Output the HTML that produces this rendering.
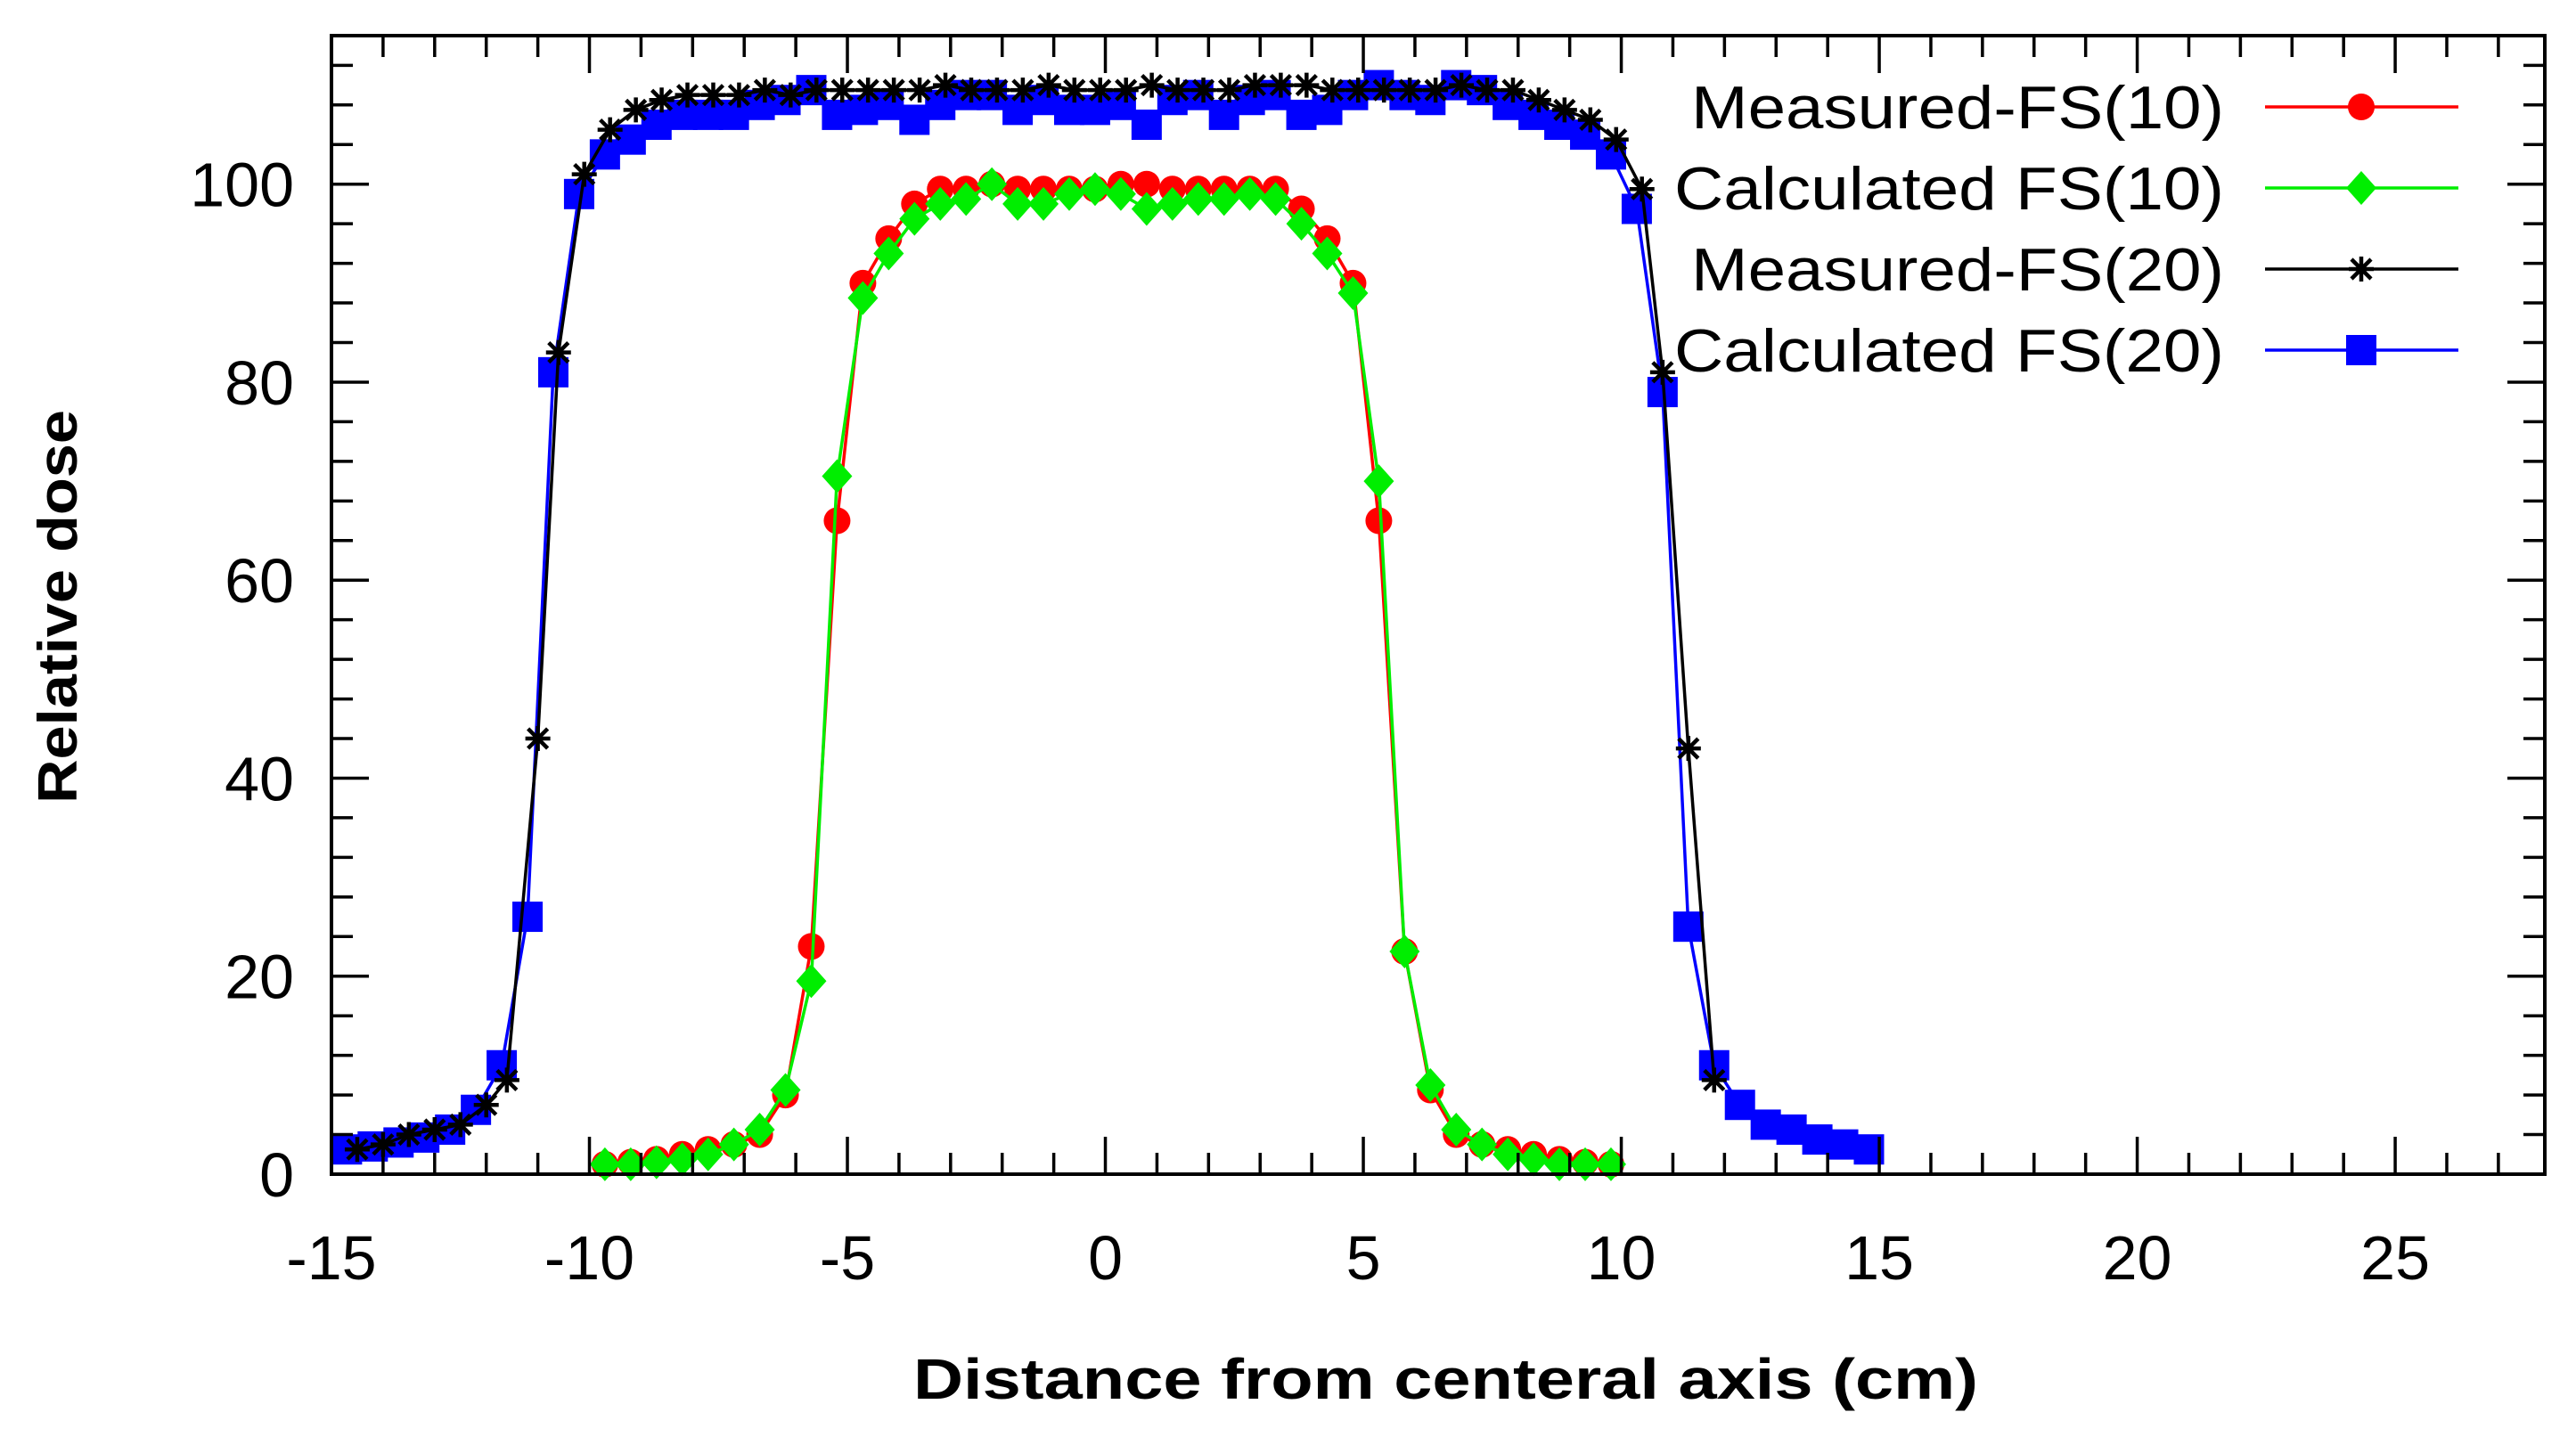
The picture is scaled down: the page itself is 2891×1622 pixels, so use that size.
<!DOCTYPE html>
<html><head><meta charset="utf-8"><style>html,body{margin:0;padding:0;background:#fff}svg{display:block}</style></head>
<body>
<svg id="chart" width="2891" height="1622" viewBox="0 0 2891 1622" xmlns="http://www.w3.org/2000/svg" font-family="'Liberation Sans', Arial, sans-serif">
<rect x="0" y="0" width="2891" height="1622" fill="#fff"/>
<g id="marks"></g>
<g id="axes"></g>
</svg>
<script>
const f20x=[-14.7,-14.2,-13.7,-13.2,-12.7,-12.2,-11.7,-11.2,-10.7,-10.2,-9.7,-9.2,-8.7,-8.2,-7.7,-7.2,-6.7,-6.2,-5.7,-5.2,-4.7,-4.2,-3.7,-3.2,-2.7,-2.2,-1.7,-1.2,-0.7,-0.2,0.3,0.8,1.3,1.8,2.3,2.8,3.3,3.8,4.3,4.8,5.3,5.8,6.3,6.8,7.3,7.8,8.3,8.8,9.3,9.8,10.3,10.8,11.3,11.8,12.3,12.8,13.3,13.8,14.3,14.8];
const calc20=[2.5,2.8,3.2,3.7,4.5,6.5,11,26,81,99,103,104.5,106,107,107,107,108,108.5,109.5,107,107.5,108,106.5,108,109,109,107.5,108.5,107.5,107.5,108,106,108.5,109,107,108.5,109,107,107.5,109,110,109,108.5,110,109.5,108,107,106,105,103,97.5,79,25,11,7,5,4.5,3.5,3,2.5];
const m20x=[-14.5,-14,-13.5,-13,-12.5,-12,-11.6,-11.0,-10.6,-10.1,-9.6,-9.1,-8.6,-8.1,-7.6,-7.1,-6.6,-6.1,-5.6,-5.1,-4.6,-4.1,-3.6,-3.1,-2.6,-2.1,-1.6,-1.1,-0.6,-0.1,0.4,0.9,1.4,1.9,2.4,2.9,3.4,3.9,4.4,4.9,5.4,5.9,6.4,6.9,7.4,7.9,8.4,8.9,9.4,9.9,10.4,10.8,11.3,11.8];
const meas20=[2.5,3,4,4.5,5,7,9.5,44,83,101,105.5,107.5,108.5,109,109,109,109.5,109,109.5,109.5,109.5,109.5,109.5,110,109.5,109.5,109.5,110,109.5,109.5,109.5,110,109.5,109.5,109.5,110,110,110,109.5,109.5,109.5,109.5,109.5,110,109.5,109.5,108.5,107.5,106.5,104.5,99.5,81,43,9.5];
const f10x=[-9.7,-9.2,-8.7,-8.2,-7.7,-7.2,-6.7,-6.2,-5.7,-5.2,-4.7,-4.2,-3.7,-3.2,-2.7,-2.2,-1.7,-1.2,-0.7,-0.2,0.3,0.8,1.3,1.8,2.3,2.8,3.3,3.8,4.3,4.8,5.3,5.8,6.3,6.8,7.3,7.8,8.3,8.8,9.3,9.8];
const meas10=[1,1.2,1.5,2,2.5,3,4,8,23,66,90,94.5,98,99.5,99.5,100,99.5,99.5,99.5,99.5,100,100,99.5,99.5,99.5,99.5,99.5,97.5,94.5,90,66,22.5,8.5,4,3,2.5,2,1.5,1.2,1];
const calc10=[1,1,1.2,1.5,2,3,4.5,8.5,19.5,70.5,88.5,93,96.5,98,98.5,100,98,98,99,99.5,99,97.5,98,98.5,98.5,99,98.5,96,93,89,70,22.5,9,4.5,3,2,1.5,1,1,1];
const xTicks=[-15,-10,-5,0,5,10,15,20,25];
const yTicks=[0,20,40,60,80,100];

const NS='http://www.w3.org/2000/svg';
const L=372,R=2856,T=40,B=1318,XMIN=-15,XMAX=27.9,YMIN=0,YMAX=115;
const sx=v=>L+(v-XMIN)/(XMAX-XMIN)*(R-L);
const sy=v=>B-(v-YMIN)/(YMAX-YMIN)*(B-T);
const marks=document.getElementById('marks'),axes=document.getElementById('axes');
function mk(tag,attrs,parent){const e=document.createElementNS(NS,tag);for(const k in attrs)e.setAttribute(k,attrs[k]);parent.appendChild(e);return e;}

function marker(type,cx,cy,g,color){
  let e;
  if(type==='circle') e=mk('circle',{cx:cx,cy:cy,r:15,fill:color},g);
  else if(type==='diamond') e=mk('polygon',{points:`${cx},${cy-19} ${cx+17},${cy} ${cx},${cy+19} ${cx-17},${cy}`,fill:color},g);
  else if(type==='square') e=mk('rect',{x:cx-17,y:cy-17,width:34,height:34,fill:color},g);
  else { e=mk('path',{d:`M${cx-14},${cy}H${cx+14}M${cx},${cy-14}V${cy+14}M${cx-11},${cy-11}L${cx+11},${cy+11}M${cx-11},${cy+11}L${cx+11},${cy-11}`,stroke:color,'stroke-width':4.5,fill:'none'},g); }
  return e;
}
function series(name,xs,ys,color,type){
  const g=mk('g',{},marks);
  
  
  const line=mk('polyline',{points:xs.map((x,i)=>sx(x)+','+sy(ys[i])).join(' '),fill:'none',stroke:color,'stroke-width':3.5},g);
  
  
  xs.forEach((x,i)=>{const m=marker(type,sx(x),sy(ys[i]),g,color);
    
    });
}
series('measured-fs10',f10x,meas10,'#ff0000','circle');
series('calculated-fs10',f10x,calc10,'#00ee00','diamond');
series('calculated-fs20',f20x,calc20,'#0000ff','square');
series('measured-fs20',m20x,meas20,'#000000','star');

const fr=mk('rect',{x:L,y:T,width:R-L,height:B-T,fill:'none',stroke:'#000','stroke-width':4},axes);


let td='';
for(let v=-15;v<=27;v++){const x=sx(v);const len=(v%5===0)?42:24;td+=`M${x},${B}V${B-len}M${x},${T}V${T+len}`;}
for(let v=4;v<=112;v+=4){const y=sy(v);const len=(v%20===0)?42:24;td+=`M${L},${y}H${L+len}M${R},${y}H${R-len}`;}
const tk=mk('path',{d:td,stroke:'#000','stroke-width':3.5,fill:'none'},axes);


xTicks.forEach(v=>{const t=mk('text',{x:sx(v),y:1436,'font-size':70,'text-anchor':'middle',fill:'#000'},axes);t.textContent=v;
  
  });
yTicks.forEach(v=>{const t=mk('text',{x:330,y:sy(v)+25,'font-size':70,'text-anchor':'end',fill:'#000'},axes);t.textContent=v;
  
  });
const xl=mk('text',{x:1025,y:1570,'font-size':64,'font-weight':'bold',textLength:1195,lengthAdjust:'spacingAndGlyphs',fill:'#000'},axes);
xl.textContent='Distance from centeral axis (cm)';


const yl=mk('text',{x:0,y:0,'font-size':62,'font-weight':'bold','text-anchor':'middle',textLength:442,lengthAdjust:'spacingAndGlyphs',transform:'translate(86,681) rotate(-90)',fill:'#000'},axes);
yl.textContent='Relative dose';



const legNames=['Measured-FS(10)','Calculated FS(10)','Measured-FS(20)','Calculated FS(20)'];
const legColors=['#ff0000','#00ee00','#000000','#0000ff'];
const legTypes=['circle','diamond','star','square'];
const legW=[598,617,598,617];
const legY=[120,211,302,393];
const lg=mk('g',{},axes);


legNames.forEach((n,i)=>{
  const e=mk('g',{},lg);
  
  
  const t=mk('text',{x:2496-legW[i],y:legY[i]+24,'font-size':68,textLength:legW[i],lengthAdjust:'spacingAndGlyphs',fill:'#000'},e);t.textContent=n;
  mk('line',{x1:2542,x2:2759,y1:legY[i],y2:legY[i],stroke:legColors[i],'stroke-width':3.5},e);
  marker(legTypes[i],2650,legY[i],e,legColors[i]);
});
</script>
</body></html>
